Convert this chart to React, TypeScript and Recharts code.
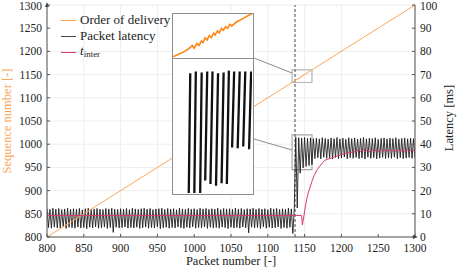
import React from 'react';
import {
  ComposedChart,
  LineChart,
  Line,
  XAxis,
  YAxis,
  CartesianGrid,
  ReferenceLine,
  ReferenceArea,
  Legend,
} from 'recharts';

const FONT = 'Liberation Serif, Times New Roman, serif';

const packetTicks = [800, 850, 900, 950, 1000, 1050, 1100, 1150, 1200, 1250, 1300];
const seqTicks = [800, 850, 900, 950, 1000, 1050, 1100, 1150, 1200, 1250, 1300];
const latencyTicks = [0, 10, 20, 30, 40, 50, 60, 70, 80, 90, 100];

// order of delivery (sequence number per packet), sawtooth only visible in the zoom
const deliveryPackets = [
  800, 1134, 1137, 1138.4, 1139.6, 1140.2, 1141.2, 1141.9, 1142.7, 1143.2, 1144, 1144.7,
  1145.4, 1146.1, 1146.9, 1147.4, 1148.2, 1148.8, 1149.6, 1150.2, 1151, 1151.7, 1152.4,
  1153.1, 1154.6, 1158.2, 1300,
];
const deliverySeq = [
  800, 1134, 1136.5, 1138.3, 1140.2, 1138.5, 1141.5, 1140.3, 1143, 1142, 1145, 1143.8,
  1146.5, 1145.2, 1148, 1146.8, 1149.4, 1148.2, 1151, 1149.8, 1152, 1151, 1153.5,
  1152.5, 1154.8, 1158.5, 1300,
];

// packet latency [ms], one sample every 2 packets from 800 to 1300
const latencyStart = 800;
const latencyStep = 2;
const packetLatency = [
  12.2, 4.1, 11.9, 3.8, 12.4, 4.3, 12.0, 3.9, 12.3, 4.0,
  11.8, 4.4, 12.1, 3.7, 12.4, 4.2, 11.9, 4.0, 12.2, 3.8,
  12.0, 4.3, 12.3, 3.9, 11.7, 4.1, 12.2, 3.6, 12.4, 4.2,
  11.9, 3.9, 12.1, 4.4, 12.3, 3.8, 12.0, 4.0, 11.8, 4.3,
  12.3, 3.7, 12.1, 4.1, 12.4, 2.0, 12.0, 4.2, 11.9, 3.9,
  12.2, 4.0, 12.0, 4.3, 12.3, 3.8, 11.8, 4.1, 12.4, 3.9,
  12.1, 4.2, 11.9, 3.7, 12.2, 4.0, 12.4, 4.3, 12.0, 3.8,
  12.3, 4.1, 11.8, 3.9, 12.1, 4.4, 12.2, 3.6, 12.4, 4.0,
  11.9, 4.2, 12.3, 3.8, 12.0, 4.1, 12.2, 3.9, 11.7, 4.3,
  12.4, 4.0, 12.1, 3.7, 11.9, 4.2, 12.3, 3.9, 12.0, 4.4,
  12.2, 3.8, 11.8, 4.1, 12.4, 4.0, 12.1, 4.3, 12.3, 3.7,
  11.9, 4.2, 12.2, 3.9, 12.0, 4.1, 12.4, 3.8, 11.8, 4.3,
  12.3, 4.0, 12.1, 3.6, 12.2, 4.2, 11.9, 3.9, 12.4, 4.1,
  12.0, 3.8, 12.3, 4.3, 11.8, 4.0, 12.2, 1.8, 12.1, 4.2,
  12.4, 3.9, 11.9, 4.1, 12.3, 3.7, 12.0, 4.4, 12.2, 3.8,
  11.8, 4.2, 12.4, 3.9, 12.1, 4.0, 12.3, 4.3, 11.9, 3.7,
  12.2, 4.1, 12.0, 3.8, 12.4, 4.2, 12.1, 1.5, 12.3,
  43.0, 12.5, 42.8, 27.5, 42.6, 29.8, 42.9, 30.4, 42.5, 30.8,
  42.7, 31.2, 42.4, 33.8,
  42.6, 34.2, 42.3, 33.7, 42.8, 34.4, 42.5, 33.9, 42.2, 34.1,
  42.7, 33.6, 42.4, 34.3, 42.9, 33.8, 42.3, 34.0, 42.6, 34.5,
  42.1, 33.7, 42.8, 34.2, 42.4, 33.9, 42.7, 34.3, 42.2, 33.8,
  42.5, 34.1, 42.9, 33.6, 42.3, 34.4, 42.6, 33.9, 42.4, 34.2,
  42.8, 33.7, 42.1, 34.0, 42.5, 34.3, 42.7, 33.8, 42.3, 34.1,
  42.6, 33.9, 42.4, 34.4, 42.8, 33.7, 42.2, 34.2, 42.5, 33.8,
  42.7, 34.0, 42.3, 34.3, 42.6, 33.9, 42.4, 34.1,
];

// t_inter
const interPackets = [
  800, 1146, 1147, 1149, 1151, 1153, 1155, 1157, 1160, 1163,
  1167, 1172, 1177, 1182, 1186, 1190, 1195, 1200, 1205, 1210,
  1215, 1220, 1224, 1226, 1230, 1232, 1236, 1238, 1242, 1244,
  1248, 1250, 1254, 1256, 1260, 1262, 1266, 1268, 1272, 1274,
  1278, 1280, 1284, 1286, 1290, 1292, 1296, 1300,
];
const interLatency = [
  9.3, 9.3, 5.2, 9, 13, 16.5, 19, 21, 24, 26.5,
  29, 31, 33, 33.6, 34, 34.5, 35, 35.5, 36, 36.3,
  36.6, 36.8, 37.6, 36.8, 37.7, 36.9, 37.6, 36.8, 37.7, 36.8,
  37.6, 36.9, 37.7, 36.8, 37.6, 36.9, 37.7, 36.8, 37.6, 36.8,
  37.7, 36.9, 37.6, 36.8, 37.7, 36.9, 37.6, 36.8,
];

// zoomed latency detail (single strokes)
const strokePackets = [1138.2, 1140.1, 1142.1, 1144, 1145.8, 1147.7, 1149.6, 1151.4, 1153.2, 1155.1, 1157, 1159];
const strokeLow = [24, 24, 24, 30.4, 30.0, 29.8, 30.1, 30.0, 34.1, 34.0, 34.2, 33.9];
const strokeHigh = [42.4, 42.6, 42.5, 42.6, 42.6, 42.4, 42.5, 42.7, 42.6, 42.6, 42.6, 42.6];

const zoomPackets: [number, number] = [1133, 1160];
const zoomSeq: [number, number] = [1133, 1160];
const zoomLatency: [number, number] = [29, 44];

const deliveryData = deliveryPackets.map((p, i) => ({ packet: p, seq: deliverySeq[i] }));
const latencyData = packetLatency.map((v, i) => ({ packet: latencyStart + i * latencyStep, latency: v }));
const interData = interPackets.map((p, i) => ({ packet: p, latency: interLatency[i] }));
const strokeData = strokePackets.flatMap((p, i) => [
  { packet: p, latency: strokeLow[i] },
  { packet: p + 0.7, latency: strokeHigh[i] },
  { packet: p + 0.7, latency: null },
]);

const ORANGE = '#fba75a';
const ORANGE_DARK = '#ff8514';
const PINK = '#d83a6f';
const BLACK = '#1a1a1a';

const tickStyle = { fontFamily: FONT, fontSize: 11.5, fill: '#222' };

function LegendBox() {
  const row = (color: string, label: React.ReactNode) => (
    <div style={{ display: 'flex', alignItems: 'center', height: 16 }}>
      <span style={{ display: 'inline-block', width: 15, height: 0, borderTop: `1.2px solid ${color}`, marginRight: 4 }} />
      <span>{label}</span>
    </div>
  );
  return (
    <div style={{ fontFamily: FONT, fontSize: 13, color: '#222', lineHeight: '16px' }}>
      {row(ORANGE, 'Order of delivery')}
      {row('#444', 'Packet latency')}
      {row(PINK, (
        <span>
          <i>t</i>
          <sub style={{ fontSize: 9, verticalAlign: -2 }}>inter</sub>
        </span>
      ))}
    </div>
  );
}

function InsetDelivery() {
  return (
    <div style={{ position: 'absolute', left: 172, top: 13, width: 82, height: 46, border: '1.5px solid #8e8e8e', boxSizing: 'border-box', background: '#fff' }}>
      <LineChart width={79} height={43} margin={{ top: 0, right: 0, bottom: 0, left: 0 }}>
        <XAxis dataKey="packet" type="number" domain={zoomPackets} hide allowDataOverflow />
        <YAxis type="number" domain={zoomSeq} hide allowDataOverflow />
        <Line data={deliveryData} dataKey="seq" stroke={ORANGE_DARK} strokeWidth={1.6} dot={false} isAnimationActive={false} />
      </LineChart>
    </div>
  );
}

function InsetLatency() {
  return (
    <div style={{ position: 'absolute', left: 172, top: 58, width: 82, height: 137, border: '1.5px solid #8e8e8e', boxSizing: 'border-box', background: '#fff' }}>
      <LineChart width={79} height={134} margin={{ top: 0, right: 0, bottom: 0, left: 0 }}>
        <XAxis dataKey="packet" type="number" domain={zoomPackets} hide allowDataOverflow />
        <YAxis type="number" domain={zoomLatency} hide allowDataOverflow />
        <Line data={strokeData} dataKey="latency" stroke="#111" strokeWidth={2.3} dot={false} connectNulls={false} isAnimationActive={false} />
      </LineChart>
    </div>
  );
}

export default function App() {
  return (
    <div style={{ position: 'absolute', left: 0, top: 0, width: 457, height: 268, background: '#fff', fontFamily: FONT }}>
      <ComposedChart width={457} height={268} margin={{ top: 5, right: 0, bottom: 0, left: 0 }}>
        <CartesianGrid stroke="#eeeeee" yAxisId="seq" />
        <XAxis
          dataKey="packet"
          type="number"
          domain={[800, 1300]}
          ticks={packetTicks}
          allowDataOverflow
          height={31}
          stroke="#555"
          tickSize={-3}
          tickMargin={10}
          tick={tickStyle}
          label={{
            content: ({ viewBox }: any) => (
              <text x={viewBox.x + viewBox.width / 2} y={viewBox.y + 28} textAnchor="middle" fontFamily={FONT} fontSize={12.5} fill="#222">
                Packet number [-]
              </text>
            ),
          }}
        />
        <YAxis
          yAxisId="seq"
          type="number"
          domain={[800, 1300]}
          ticks={seqTicks}
          allowDataOverflow
          width={47}
          stroke="#555"
          tickSize={-3}
          tickMargin={8}
          tick={tickStyle}
          label={{
            content: ({ viewBox }: any) => {
              const x = 7;
              const y = viewBox.y + viewBox.height / 2;
              return (
                <text x={x} y={y} transform={`rotate(-90 ${x} ${y})`} textAnchor="middle" dominantBaseline="central" fontFamily={FONT} fontSize={12.5} fill={ORANGE}>
                  Sequence number [-]
                </text>
              );
            },
          }}
        />
        <YAxis
          yAxisId="lat"
          orientation="right"
          type="number"
          domain={[0, 100]}
          ticks={latencyTicks}
          allowDataOverflow
          width={42}
          stroke="#555"
          tickSize={-3}
          tickMargin={8}
          tick={tickStyle}
          label={{
            content: ({ viewBox }: any) => {
              const x = viewBox.x + 34;
              const y = viewBox.y + viewBox.height / 2 - 3;
              return (
                <text x={x} y={y} transform={`rotate(-90 ${x} ${y})`} textAnchor="middle" dominantBaseline="central" fontFamily={FONT} fontSize={12.5} fill="#222">
                  Latency [ms]
                </text>
              );
            },
          }}
        />
        <ReferenceLine x={1137} yAxisId="seq" stroke="#666" strokeDasharray="3 2" strokeWidth={1.2} />
        <Line data={latencyData} dataKey="latency" yAxisId="lat" stroke={BLACK} strokeWidth={1} strokeOpacity={0.88} dot={false} isAnimationActive={false} />
        <Line data={deliveryData} dataKey="seq" yAxisId="seq" stroke={ORANGE} strokeWidth={1} dot={false} isAnimationActive={false} />
        <Line data={interData} dataKey="latency" yAxisId="lat" stroke={PINK} strokeWidth={1} dot={false} isAnimationActive={false} />
        <ReferenceArea x1={zoomPackets[0]} x2={zoomPackets[1]} y1={zoomSeq[0]} y2={zoomSeq[1]} yAxisId="seq" fill="none" stroke="#b5b5b5" strokeWidth={1.2} ifOverflow="visible" />
        <ReferenceArea x1={zoomPackets[0]} x2={zoomPackets[1]} y1={zoomLatency[0]} y2={zoomLatency[1]} yAxisId="lat" fill="none" stroke="#a8a8a8" strokeWidth={1.2} ifOverflow="visible" />
        <Legend
          content={<LegendBox />}
          layout="vertical"
          align="center"
          verticalAlign="middle"
          wrapperStyle={{ left: 61, top: 12, width: 'auto', height: 'auto' }}
        />
      </ComposedChart>
      <svg width={457} height={268} style={{ position: 'absolute', left: 0, top: 0, pointerEvents: 'none' }}>
        <line x1={254} y1={58} x2={292} y2={73} stroke="#8a8a8a" strokeWidth={1} />
        <line x1={254} y1={139} x2={292} y2={150} stroke="#8a8a8a" strokeWidth={1} />
        <polygon points="47,2 45,7 49,7" fill="#444" />
        <polygon points="418,237 413,235 413,239" fill="#444" />
      </svg>
      <InsetDelivery />
      <InsetLatency />
    </div>
  );
}
